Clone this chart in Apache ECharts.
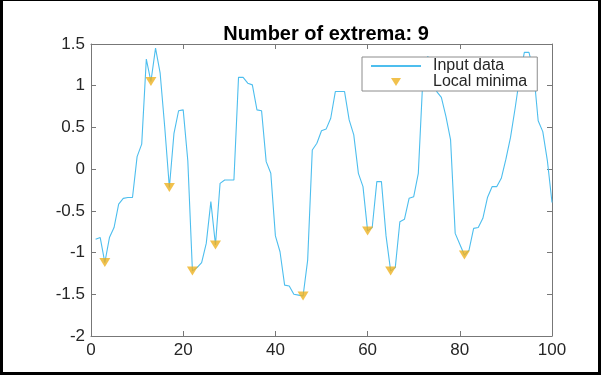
<!DOCTYPE html>
<html>
<head>
<meta charset="utf-8">
<script src="https://cdn.jsdelivr.net/npm/echarts@6/dist/echarts.min.js"></script>
<style>
html,body{margin:0;padding:0;background:#fff;}
#frame{position:absolute;left:0;top:0;width:601px;height:375px;box-sizing:border-box;border:3px solid #000;border-top-width:1px;background:#fff;}
#chart{position:absolute;left:0;top:0;width:601px;height:375px;}
</style>
</head>
<body>
<div id="frame"></div>
<div id="chart"></div>
<script>
const titleText = 'Number of extrema: 9';
const seriesNames = ['Input data', 'Local minima'];
const sampleIndex = [1,2,3,4,5,6,7,8,9,10,11,12,13,14,15,16,17,18,19,20,21,22,23,24,25,26,27,28,29,30,31,32,33,34,35,36,37,38,39,40,41,42,43,44,45,46,47,48,49,50,51,52,53,54,55,56,57,58,59,60,61,62,63,64,65,66,67,68,69,70,71,72,73,74,75,76,77,78,79,80,81,82,83,84,85,86,87,88,89,90,91,92,93,94,95,96,97,98,99,100];
const inputData = [-0.84,-0.82,-1.12,-0.82,-0.70,-0.42,-0.35,-0.34,-0.34,0.15,
  0.30,1.32,1.05,1.45,1.15,0.50,-0.22,0.43,0.70,0.71,
  0.10,-1.22,-1.18,-1.12,-0.89,-0.39,-0.91,-0.17,-0.13,-0.13,
  -0.13,1.10,1.10,1.03,1.01,0.71,0.70,0.09,-0.05,-0.80,
  -0.99,-1.39,-1.40,-1.50,-1.51,-1.52,-1.09,0.23,0.31,0.46,
  0.48,0.61,0.93,0.93,0.93,0.59,0.41,-0.05,-0.21,-0.74,
  -0.70,-0.15,-0.15,-0.80,-1.22,-1.18,-0.63,-0.60,-0.35,-0.33,
  -0.05,1.10,1.35,1.30,0.93,0.86,0.63,0.35,-0.77,-0.90,
  -1.03,-0.97,-0.71,-0.70,-0.59,-0.34,-0.21,-0.21,-0.11,0.12,
  0.38,0.73,1.11,1.40,1.40,1.18,0.58,0.45,0.10,-0.40];
const minimaIndex = [3,13,17,22,27,46,60,65,81];
const xTicks = {min: 0, max: 100, interval: 20};
const yTicks = {min: -2, max: 1.5, interval: 0.5};

const lineData = sampleIndex.map((x, i) => [x, inputData[i]]);
const minimaData = minimaIndex.map(x => [x, inputData[sampleIndex.indexOf(x)]]);

const axisColor = '#777777';
const textColor = '#262626';
const fontFamily = '"Liberation Sans", Arial, sans-serif';

const chart = echarts.init(document.getElementById('chart'), null, {renderer: 'canvas'});
const baseX = {type: 'value', min: xTicks.min, max: xTicks.max, interval: xTicks.interval,
  axisLine: {show: true, onZero: false, lineStyle: {color: axisColor, width: 1}},
  axisTick: {show: true, inside: true, length: 5, lineStyle: {color: axisColor}},
  splitLine: {show: false}};
const baseY = {type: 'value', min: yTicks.min, max: yTicks.max, interval: yTicks.interval,
  axisLine: {show: true, onZero: false, lineStyle: {color: axisColor, width: 1}},
  axisTick: {show: true, inside: true, length: 5, lineStyle: {color: axisColor}},
  splitLine: {show: false}};
chart.setOption({
  backgroundColor: 'transparent',
  animation: false,
  title: {text: titleText, left: 321, top: 19, textAlign: 'center',
    textStyle: {fontFamily: fontFamily, fontWeight: 'bold', fontSize: 20, color: '#000'}},
  grid: {left: 91, top: 44, right: 49, bottom: 39, containLabel: false},
  legend: {
    orient: 'vertical', left: 362, top: 57, itemWidth: 50, itemHeight: 8, itemGap: 0,
    padding: [1, 10, 1, 8], backgroundColor: '#fff', borderColor: '#8c8c8c', borderWidth: 1,
    textStyle: {fontFamily: fontFamily, fontSize: 16, color: textColor, lineHeight: 16, padding: [0, 0, 0, 7]},
    data: [
      {name: seriesNames[0], itemStyle: {opacity: 0}},
      {name: seriesNames[1], icon: 'path://M0,0L10,0L5,8Z'}
    ]
  },
  xAxis: [
    Object.assign({}, baseX, {position: 'bottom',
      axisLabel: {margin: 6, fontFamily: fontFamily, fontSize: 17, color: textColor}}),
    Object.assign({}, baseX, {position: 'top', axisLabel: {show: false}})
  ],
  yAxis: [
    Object.assign({}, baseY, {position: 'left',
      axisLabel: {margin: 6, fontFamily: fontFamily, fontSize: 17, color: textColor,
        formatter: v => String(Math.round(v * 10) / 10)}}),
    Object.assign({}, baseY, {position: 'right', axisLabel: {show: false}})
  ],
  series: [
    {name: seriesNames[0], type: 'line', data: lineData, xAxisIndex: 0, yAxisIndex: 0,
      symbol: 'none', lineStyle: {color: '#4DBEEE', width: 1.1}, itemStyle: {color: '#4DBEEE'}, z: 2},
    {name: seriesNames[1], type: 'scatter', data: minimaData, xAxisIndex: 0, yAxisIndex: 0,
      symbol: 'triangle', symbolRotate: 180, symbolSize: [11, 9],
      itemStyle: {color: '#EDB120'}, z: 3}
  ]
});
</script>
</body>
</html>
